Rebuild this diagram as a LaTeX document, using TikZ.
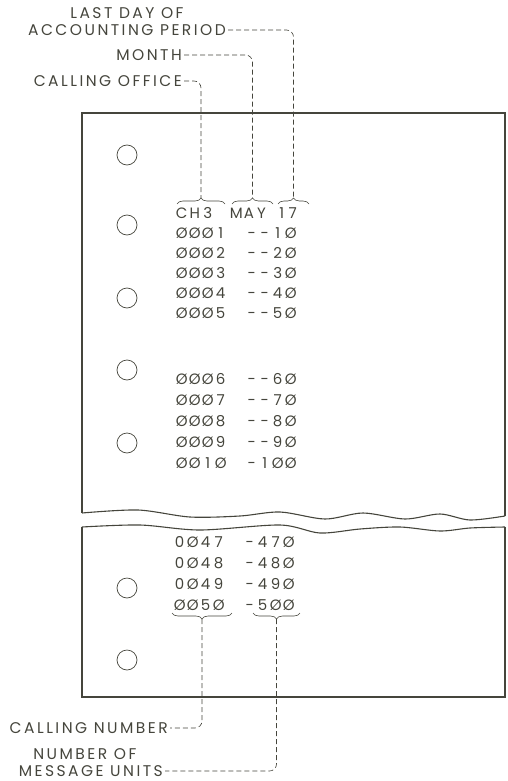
\documentclass[tikz,border=0pt]{standalone}
\usepackage{fontspec}
\setmainfont{Poppins}
\newfontfamily\lblfont[LetterSpace=16]{Poppins}
\usepackage{tikz}
\usetikzlibrary{positioning,decorations.pathreplacing}
\definecolor{ink}{HTML}{45453C}
\makeatletter
\newcommand{\pitched}[2][13pt]{%
  \edef\pitchdo{\noexpand\@tfor\noexpand\ch:=#2\noexpand\do}%
  \pitchdo{\makebox[#1][c]{\ch}}}
\makeatother
\tikzset{
  card/.style={draw=ink,line width=1.1pt},
  hole/.style={circle,draw=ink,line width=0.7pt,minimum size=20pt,inner sep=0pt},
  lead/.style={draw=ink,line width=0.6pt,dash pattern=on 5pt off 3pt,rounded corners=7pt},
  brc/.style={draw=ink,line width=0.6pt,decorate,decoration={brace,amplitude=6pt}},
  lbl/.style={font=\lblfont\fontsize{15.5}{17}\selectfont,text=ink,inner xsep=2pt,inner ysep=0pt},
  digs/.style={font=\fontsize{15}{17}\selectfont,text=ink,inner sep=0pt,anchor=west},
}

\begin{document}
\begin{tikzpicture}[x=1pt,y=-1pt]
  \useasboundingbox (0,0) rectangle (507,781);
  % card, upper part
  \draw[card] (82,513) -- (82,113) -- (505,113) -- (505,516);
  \draw[card] plot[smooth] coordinates {(82,513) (138,510) (190,517) (240,516) (280,512)
    (325,519) (363,513) (405,519) (440,514) (470,520) (505,516)};
  % card, lower part
  \draw[card] plot[smooth] coordinates {(82,527) (140,525) (200,530) (280,525) (320,533)
    (360,529) (400,527) (440,531) (470,528) (505,527)};
  \draw[card] (82,527) -- (82,697) -- (505,697) -- (505,527);
  % holes
  \foreach \y [count=\i] in {155,225,298,370,443,588,660}
    \node[hole] (h\i) at (127,\y) {};
  % header
  \node[digs] (office) at (175,213) {\pitched{CH3}};
  \node[digs] (month) at (230,213) {\pitched[12.5pt]{MAY}};
  \node[digs] (day) at (276,213) {\pitched[11pt]{17}};
  % entries
  \foreach \n/\u [count=\i] in {ØØØ1/--1Ø,ØØØ2/--2Ø,ØØØ3/--3Ø,ØØØ4/--4Ø,ØØØ5/--5Ø} {
    \node[digs] (num\i) at (175,213+20*\i) {\pitched{\n}};
    \node[digs] (unit\i) at (245,213+20*\i) {\pitched{\u}};
  }
  \foreach \n/\u [count=\i from 6] in {ØØØ6/--6Ø,ØØØ7/--7Ø,ØØØ8/--8Ø,ØØØ9/--9Ø,ØØ1Ø/-1ØØ} {
    \node[digs] (num\i) at (175,253+21*\i) {\pitched{\n}};
    \node[digs] (unit\i) at (245,253+21*\i) {\pitched{\u}};
  }
  \foreach \n/\u [count=\i from 47] in {0Ø47/-47Ø,0Ø48/-48Ø,0Ø49/-49Ø,ØØ5Ø/-5ØØ} {
    \node[digs] (num\i) at (173,-445+21*\i) {\pitched{\n}};
    \node[digs] (unit\i) at (243,-445+21*\i) {\pitched{\u}};
  }
  % braces and their tips
  \draw[brc] (177,204) -- (225,204);
  \draw[brc] (232,204) -- (273,204);
  \draw[brc] (278,204) -- (309,204);
  \draw[brc,decoration={mirror}] (172,613) -- (232,613);
  \draw[brc,decoration={mirror}] (253,613) -- (300,613);
  \coordinate (toffice) at (201,198);
  \coordinate (tmonth) at (252.5,198);
  \coordinate (tday) at (293.5,198);
  \coordinate (tnum) at (202,619);
  \coordinate (tunit) at (276.5,619);
  % labels
  \node[lbl,anchor=east] (loffice) at (184,81) {CALLING OFFICE};
  \node[lbl,anchor=east] (lmonth) at (184,55) {MONTH};
  \node[lbl,anchor=east] (lperiod) at (228,30) {ACCOUNTING PERIOD};
  \node[lbl,above=5pt of lperiod] (llast) {LAST DAY OF};
  \node[lbl,anchor=east] (lnum) at (170,728) {CALLING NUMBER};
  \node[lbl,anchor=east] (lunits) at (165,771) {MESSAGE UNITS};
  \node[lbl,above=5pt of lunits,xshift=-6pt] (lnumof) {NUMBER OF};
  % leaders
  \draw[lead] (loffice.east) -| (toffice);
  \draw[lead] (lmonth.east) -| (tmonth);
  \draw[lead] (lperiod.east) -| (tday);
  \draw[lead] (tnum) |- (lnum.east);
  \draw[lead] (tunit) |- (lunits.east);
\end{tikzpicture}
\end{document}
